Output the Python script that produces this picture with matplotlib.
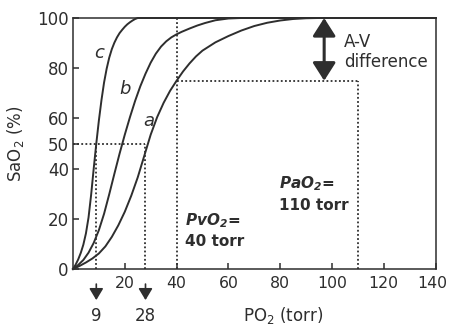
"""Oxygen-haemoglobin dissociation curves a, b, c
"""
import matplotlib
matplotlib.use("Agg")
import matplotlib.pyplot as plt
import matplotlib.transforms as mtransforms

plt.rcParams["font.family"] = ["DejaVu Sans"]
plt.rcParams["mathtext.default"] = "regular"

# curve a (adult), P50 ~ 28 torr
po2_a = [0, 2.5, 5, 7.5, 10, 12.5, 15, 17.5, 20, 22.5, 25, 27.5, 30, 32.5, 35, 37.5, 40, 42.5, 45,
         47.5, 50, 55, 60, 65, 70, 75, 80, 85, 90, 95, 140]
sat_a = [0, 1.2, 2.6, 4.2, 6.2, 9, 12.8, 17.4, 22.8, 29.2, 36.5, 45, 53.5, 60.5, 66.2, 71, 75, 78.7, 81.9,
         84.7, 87, 90.3, 92.8, 95, 96.8, 98.1, 99, 99.6, 99.9, 100, 100]

# curve b, P50 ~ 19 torr
po2_b = [0, 2, 4, 6, 8, 10, 12, 14, 16, 18, 20, 22, 24, 26, 28, 30, 32, 34, 36, 38, 40, 42, 45,
         48, 51, 55, 60, 65, 140]
sat_b = [0, 1.6, 3.6, 6.5, 10.4, 15.5, 22, 29.8, 38, 46, 53.5, 60.5, 67, 72.8, 77.8, 82.2, 85.8, 88.6,
         90.7, 92.3, 93.5, 94.5, 95.8, 97, 98, 99.1, 99.8, 100, 100]

# curve c, P50 ~ 9 torr
po2_c = [0, 1, 2, 3, 4, 5, 6, 7, 8, 9, 10, 11, 12, 13, 14, 15, 16, 17, 18, 19, 20, 21, 22, 23,
         24, 25, 140]
sat_c = [0, 1.7, 3.8, 6.4, 9.7, 14.2, 20.5, 29.5, 40, 50, 59.2, 67.3, 74.3, 79.8, 84.2, 87.6, 90.2,
         92.3, 94, 95.3, 96.5, 97.5, 98.3, 99, 99.6, 100, 100]

x_ticks = [20, 40, 60, 80, 100, 120, 140]
y_ticks = [0, 20, 40, 50, 60, 80, 100]

p50_c = 9
p50_a = 28
pv_o2 = 40
pa_o2 = 110
sat_v = 75

ink = "#2e2e2e"

fig = plt.figure(figsize=(4.5, 3.26), dpi=100)
ax = fig.add_axes([0.1622, 0.1748, 0.8056, 0.77])

for px, sy in [(po2_a, sat_a), (po2_b, sat_b), (po2_c, sat_c)]:
    ax.plot(px, sy, color=ink, lw=1.4, clip_on=False, zorder=3, solid_joinstyle="round")

dot = dict(color=ink, lw=1.3, ls=(0, (1, 1.3)), zorder=2)
ax.plot([0, p50_a], [50, 50], **dot)
ax.plot([p50_c, p50_c], [0, 50], **dot)
ax.plot([p50_a, p50_a], [0, 50], **dot)
ax.plot([pv_o2, pv_o2], [0, 100], **dot)
ax.plot([pv_o2, pa_o2], [sat_v, sat_v], **dot)
ax.plot([pa_o2, pa_o2], [0, sat_v], **dot)

ax.set_xlim(0, 140)
ax.set_ylim(0, 100)
ax.set_xticks(x_ticks)
ax.set_yticks(y_ticks)
ax.tick_params(direction="in", length=4, width=1.1, colors=ink)
ax.tick_params(axis="x", pad=5, labelsize=11.3)
ax.tick_params(axis="y", pad=3, labelsize=12)
for s in ax.spines.values():
    s.set_linewidth(1.1)
    s.set_color(ink)

# nudge the last x label inwards so it stays on the canvas
last = ax.get_xticklabels()[-1]
last.set_transform(last.get_transform() + mtransforms.ScaledTranslation(-3 / 100, 0, fig.dpi_scale_trans))

ax.set_ylabel("SaO$_2$ (%)", fontsize=12, color=ink)
ax.yaxis.set_label_coords(-0.13, 0.5)
ax.text(0.58, -0.187, "PO$_2$ (torr)", transform=ax.transAxes, ha="center", va="center",
        fontsize=12, color=ink)

# curve letters
ax.text(10.1, 85.9, "c", style="italic", fontsize=13, color=ink, ha="center", va="center")
ax.text(20, 71.7, "b", style="italic", fontsize=13, color=ink, ha="center", va="center")
ax.text(29.2, 59, "a", style="italic", fontsize=13, color=ink, ha="center", va="center")

# A-V difference arrow
ax.annotate("", xy=(97, sat_v), xytext=(97, 100),
            arrowprops=dict(arrowstyle="<|-|>,head_length=1.1,head_width=0.7", mutation_scale=10,
                            color=ink, lw=2.2, shrinkA=0, shrinkB=0), zorder=4)
ax.text(104.6, 88.4, "A-V", fontsize=12, color=ink, ha="left", va="baseline")
ax.text(104.6, 80.5, "difference", fontsize=12, color=ink, ha="left", va="baseline")

ax.text(43.1, 17.5, "PvO$_2$=", fontsize=11, weight="bold", style="italic", color=ink, va="baseline")
ax.text(43.1, 9.2, "40 torr", fontsize=11, weight="bold", color=ink, va="baseline")
ax.text(79.6, 32.3, "PaO$_2$=", fontsize=11, weight="bold", style="italic", color=ink, va="baseline")
ax.text(79.6, 23.5, "110 torr", fontsize=11, weight="bold", color=ink, va="baseline")

# arrows below the axis
for xv in [p50_c, p50_a]:
    ax.annotate("", xy=(xv, -12.4), xytext=(xv, -6.0), annotation_clip=False,
                arrowprops=dict(arrowstyle="-|>,head_length=0.7,head_width=0.42", mutation_scale=10,
                                color=ink, lw=1.2, shrinkA=0, shrinkB=0))
    ax.text(xv, -20.7, str(xv), fontsize=12, color=ink, ha="center", va="baseline", clip_on=False)

fig.savefig("out.png", dpi=100)
